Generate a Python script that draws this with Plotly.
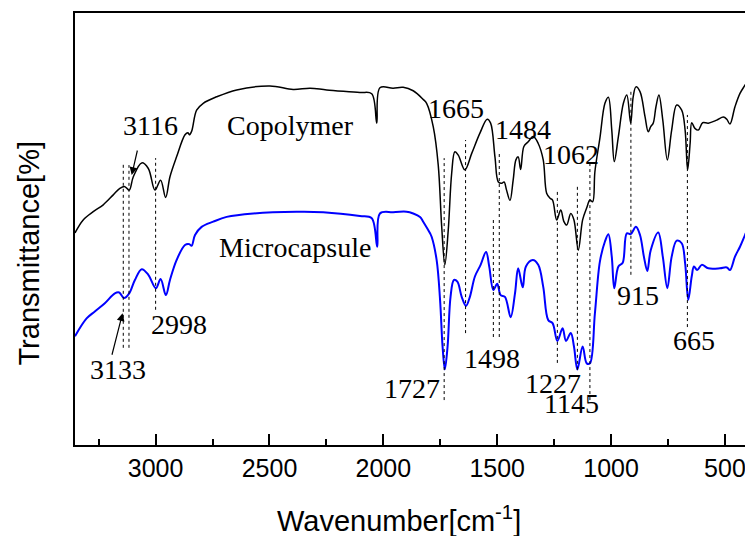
import plotly.graph_objects as go

# ---- Copolymer spectrum (wavenumber cm-1, transmittance a.u.) ----
cop_wn = [3354, 3318, 3274, 3230, 3186, 3157, 3135, 3116, 3098, 3061, 3032, 3003, 2978, 2956,
          2937, 2908, 2871, 2858, 2852, 2842, 2820, 2791, 2732, 2644, 2498, 2396, 2322, 2249,
          2103, 2051, 2029, 2015, 1957, 1913, 1869, 1825, 1810, 1781, 1759, 1744, 1730, 1715,
          1700, 1686, 1671, 1642, 1612, 1576, 1544, 1529, 1510, 1495, 1480, 1470, 1459, 1444,
          1430, 1418, 1408, 1397, 1383, 1364, 1342, 1320, 1298, 1283, 1268, 1257, 1239, 1221,
          1207, 1195, 1177, 1163, 1144, 1125, 1107, 1093, 1081, 1071, 1049, 1027, 1012, 997,
          986, 968, 946, 931, 914, 903, 891, 873, 851, 837, 826, 815, 803, 790, 773, 753, 734,
          712, 690, 675, 664, 653, 646, 632, 617, 598, 573, 536, 507, 492, 478, 456, 434, 412, 400]
cop_t = [49.1, 52.1, 54.0, 55.6, 57.9, 59.4, 59.8, 59.0, 62.1, 65.3, 64.0, 59.0, 61.3, 57.3,
         62.1, 66.7, 71.8, 72.3, 71.8, 72.6, 77.5, 79.1, 80.6, 82.2, 83.1, 82.3, 82.6, 82.2,
         81.6, 81.3, 74.5, 82.7, 82.6, 82.8, 82.0, 80.0, 79.1, 73.7, 64.8, 50.7, 41.7, 49.8,
         62.9, 67.9, 67.1, 63.7, 67.5, 72.2, 75.4, 74.5, 66.7, 60.9, 60.6, 60.9, 59.0, 56.6,
         61.3, 66.0, 66.7, 63.8, 69.1, 70.2, 71.4, 69.8, 66.0, 58.3, 57.1, 56.7, 52.1, 54.4,
         51.7, 50.9, 53.6, 52.1, 45.1, 52.1, 54.9, 56.7, 56.3, 63.3, 71.1, 79.1, 80.5, 72.9,
         65.6, 71.4, 79.1, 81.0, 74.5, 80.6, 82.9, 81.8, 76.0, 72.5, 73.7, 74.5, 78.3, 81.0,
         75.2, 66.0, 72.9, 78.7, 77.5, 72.9, 63.7, 69.8, 74.6, 73.3, 72.9, 74.6, 74.5, 75.2,
         75.9, 75.4, 74.3, 78.3, 81.4, 83.3, 84.4]

# ---- Microcapsule spectrum ----
mic_wn = [3354, 3303, 3267, 3223, 3179, 3160, 3139, 3116, 3091, 3061, 3032, 2999, 2978, 2955,
          2937, 2908, 2871, 2852, 2842, 2827, 2798, 2747, 2688, 2571, 2381, 2264, 2103, 2051,
          2027, 2015, 1957, 1898, 1869, 1839, 1825, 1795, 1788, 1766, 1751, 1740, 1730, 1718,
          1705, 1690, 1675, 1656, 1637, 1620, 1598, 1573, 1549, 1535, 1517, 1500, 1485, 1466,
          1441, 1422, 1408, 1388, 1374, 1344, 1320, 1298, 1276, 1257, 1236, 1213, 1198, 1177,
          1163, 1148, 1125, 1107, 1093, 1071, 1049, 1027, 1012, 997, 986, 968, 949, 931, 914,
          891, 873, 856, 841, 826, 793, 773, 753, 734, 712, 690, 675, 661, 646, 636, 622, 602,
          573, 522, 492, 478, 456, 434, 412, 400]
mic_t = [25.2, 29.3, 30.9, 32.8, 35.1, 35.3, 34.0, 35.1, 38.2, 40.7, 39.4, 36.3, 38.4, 34.7,
         38.2, 42.8, 46.3, 46.5, 46.1, 48.6, 50.5, 51.7, 52.8, 53.6, 54.0, 53.9, 53.0, 52.5,
         45.9, 53.6, 53.9, 54.0, 53.6, 52.8, 51.7, 49.0, 48.2, 42.8, 33.6, 22.8, 17.5, 22.8,
         34.3, 38.2, 37.8, 34.3, 32.2, 34.3, 39.0, 41.7, 44.7, 41.3, 35.9, 37.3, 34.7, 34.3,
         29.6, 35.1, 40.9, 36.5, 41.3, 42.8, 41.7, 36.6, 28.9, 28.2, 24.1, 27.0, 24.1, 25.9,
         22.8, 17.5, 22.8, 18.9, 18.9, 30.5, 42.5, 47.1, 48.8, 43.6, 36.3, 41.3, 42.2, 49.0, 48.8,
         50.5, 48.6, 43.6, 40.3, 45.1, 49.2, 43.6, 36.3, 43.6, 47.3, 46.7, 42.1, 33.6, 39.0, 41.3, 40.5, 41.7,
         40.9, 40.9, 41.1, 40.5, 43.6, 45.9, 48.6, 50.0]

# ---- dashed marker lines: wavenumber, top, bottom ----
mark_wn = [3142, 3117, 3000, 1733, 1639, 1517, 1491, 1236, 1148, 1093, 913, 665]
mark_top = [65.3, 64.8, 66.4, 66.4, 70.6, 52.5, 67.8, 59.0, 59.8, 65.6, 82.4, 76.4]
mark_bot = [22.5, 22.5, 31.3, 10.4, 25.9, 25.0, 25.0, 19.0, 17.4, 10.4, 39.4, 27.3]

# ---- peak labels ----
lab_text = ["3116", "1665", "1484", "1062", "2998", "3133", "1727", "1498", "1227", "1145", "915", "665"]
lab_wn = [3023, 1683, 1389, 1174, 2898, 3166, 1876, 1523, 1255, 1172, 882, 634]
lab_t = [74.0, 78.0, 73.0, 67.2, 28.0, 17.5, 13.0, 20.1, 14.2, 9.6, 34.5, 24.1]

series_names = ["Copolymer", "Microcapsule"]
series_lab_wn = [2406, 2388]
series_lab_t = [74.0, 45.8]

x_ticks = [3000, 2500, 2000, 1500, 1000, 500]

fig = go.Figure()
fig.add_trace(go.Scatter(x=cop_wn, y=cop_t, mode="lines", name="Copolymer",
                         line=dict(color="black", width=1.5), line_shape="spline"))
fig.add_trace(go.Scatter(x=mic_wn, y=mic_t, mode="lines", name="Microcapsule",
                         line=dict(color="#0000ff", width=2), line_shape="spline"))

for w, t0, t1 in zip(mark_wn, mark_top, mark_bot):
    fig.add_shape(type="line", xref="x", yref="y", x0=w, x1=w, y0=t1, y1=t0,
                  line=dict(color="black", width=1, dash="3px,3px"))

serif = dict(family="Liberation Serif, Times New Roman, serif", size=28, color="black")
for s, w, t in zip(lab_text, lab_wn, lab_t):
    fig.add_annotation(x=w, y=t, text=s, showarrow=False, font=serif,
                       xanchor="center", yanchor="middle")
for s, w, t in zip(series_names, series_lab_wn, series_lab_t):
    fig.add_annotation(x=w, y=t, text=s, showarrow=False, font=serif,
                       xanchor="center", yanchor="middle")

# arrows
fig.add_annotation(x=3105, y=62.5, ax=6, ay=-26, text="", showarrow=True,
                   arrowhead=2, arrowsize=1.3, arrowwidth=1.2, arrowcolor="black")
fig.add_annotation(x=3145, y=30.5, ax=-11, ay=43, text="", showarrow=True,
                   arrowhead=2, arrowsize=1.3, arrowwidth=1.2, arrowcolor="black")

sans = "Liberation Sans, Arial, sans-serif"
# axis titles
fig.add_annotation(xref="paper", yref="paper", x=0.484, y=-0.172, text="Wavenumber[cm<sup>-1</sup>]",
                   showarrow=False, font=dict(family=sans, size=29, color="black"),
                   xanchor="center", yanchor="middle")
fig.add_annotation(xref="paper", yref="paper", x=-0.069, y=0.445, text="Transmittance[%]",
                   textangle=-90, showarrow=False, font=dict(family=sans, size=29, color="black"),
                   xanchor="center", yanchor="middle")

fig.update_layout(
    width=745, height=536,
    margin=dict(l=75, r=0, t=13, b=91, autoexpand=False),
    paper_bgcolor="white", plot_bgcolor="white",
    showlegend=False,
    font=dict(family=sans, color="black"),
)
fig.update_xaxes(range=[3354, 412], tickvals=x_ticks, ticks="inside", ticklen=11,
                 tickwidth=2, tickcolor="black", showline=True, linewidth=2,
                 linecolor="black", mirror=True, showgrid=False, zeroline=False,
                 automargin=False, ticklabeloverflow="allow",
                 tickfont=dict(size=25, family=sans),
                 minor=dict(dtick=250, ticks="inside", ticklen=6, tickwidth=2, tickcolor="black",
                            showgrid=False))
fig.update_yaxes(range=[0, 100], showticklabels=False, ticks="", showline=True,
                 linewidth=2, linecolor="black", mirror=False, showgrid=False,
                 zeroline=False, automargin=False)

fig.write_html("out.html", config={"displayModeBar": False},
               post_script="document.body.style.margin='0';document.body.style.overflow='hidden';")
